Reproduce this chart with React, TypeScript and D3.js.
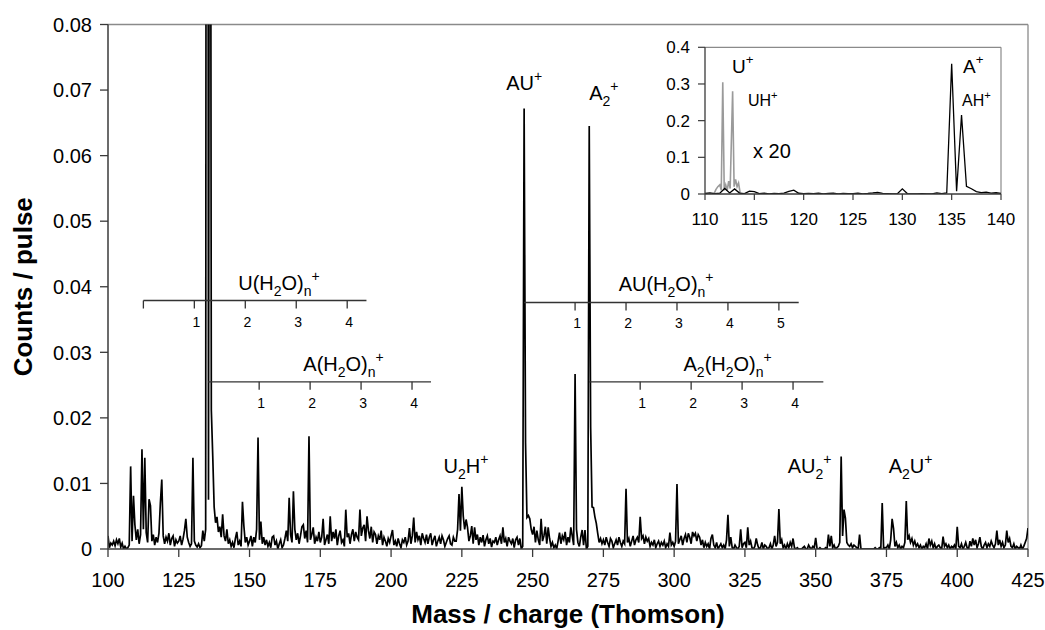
import React from "react";
import * as d3 from "d3";

const W = 1045;
const H = 630;
const FONT = "'Liberation Sans', Arial, Helvetica, sans-serif";

// ---------- data: counts/pulse x 1e-4, sampled every 0.5 Th ----------
const STEP = 0.5;
const seg100 = [20,2,9,6,12,5,14,8,16,3, 9,0,4,0,2,6,126,12,81,37, 14,30,8,22,152,30,139,25,10,76, 66,12,22,6,18,10,24,70,106,20, 8,18,12,24,6,16,20,4,14,9];
const seg125 = [12,20,6,15,28,46,18,10,4,8, 139,12,6,3,8,2,5,28,12,30, 3550,75,2150,212,142,64,40,49,26,34, 18,53,20,12,30,8,14,4,10,2, 16,26,6,12,4,72,35,10,18,6];
const seg150 = [12,20,4,18,10,30,170,14,42,8, 18,6,14,4,10,2,18,20,6,12, 0,8,14,2,6,16,28,12,78,22, 10,88,30,14,24,8,20,34,37,16, 28,10,172,14,22,33,8,18,12,26];
const seg175 = [10,18,46,6,14,22,8,50,12,26, 16,30,6,20,28,10,14,4,60,18, 24,8,22,30,12,26,18,14,60,20, 32,37,12,50,28,16,34,10,26,22, 8,20,14,28,6,18,12,4,16,10];
const seg200 = [20,29,6,12,4,16,8,2,14,10, 18,6,12,32,8,20,48,10,26,14, 20,6,24,16,10,22,8,18,24,6, 14,20,4,12,18,8,20,14,4,10, 16,20,8,6,18,12,12,30,84,28];
const seg225 = [95,50,30,45,33,12,20,35,8,33, 14,22,6,18,10,21,4,14,20,8, 16,3,12,10,18,6,14,20,8,33, 10,16,4,18,12,8,16,2,14,18, 6,16,0,4,672,162,48,51,46,30];
const seg250 = [22,34,10,28,14,6,46,12,20,34, 8,33,16,4,10,2,6,0,12,25, 8,20,14,26,6,18,10,33,20,6, 267,30,10,4,18,29,6,29,0,4, 645,186,64,63,49,39,24,10,16,8];
const seg275 = [14,6,18,10,4,16,12,2,8,14, 6,18,10,4,12,8,92,10,16,4, 12,20,6,14,18,10,49,16,20,8, 18,12,16,4,10,6,14,2,8,12, 4,10,6,12,2,8,4,25,6,10];
const seg300 = [4,12,99,8,14,20,6,16,22,10, 24,18,8,26,20,24,12,22,18,6, 14,2,10,4,8,0,16,22,6,2, 10,0,4,8,2,6,0,14,52,4, 18,2,0,6,2,0,4,30,2,8];
const seg325 = [10,2,33,6,12,2,0,4,16,6, 0,2,10,0,6,4,0,2,8,0, 6,20,4,10,61,8,14,2,6,0, 8,2,10,4,16,2,0,2,0,0, 0,2,4,0,0,6,2,0,4,2];
const seg350 = [17,0,0,2,0,0,0,2,0,22, 4,20,2,6,0,2,4,10,141,20, 60,47,10,6,4,8,2,6,4,2, 0,22,0,0,0,0,0,0,0,0, 0,0,2,0,0,2,0,70,0,2];
const seg375 = [2,6,0,14,46,31,4,10,2,6, 0,4,2,10,73,14,20,10,16,6, 12,4,8,2,6,0,4,2,8,0, 16,6,12,2,8,0,4,6,2,0, 19,4,8,2,6,0,4,2,6,0];
const seg400 = [34,4,2,8,0,4,10,2,0,12, 4,16,6,14,2,8,18,4,0,6, 10,2,8,4,12,6,2,8,28,6, 14,4,10,2,6,28,10,16,4,2, 8,0,4,2,0,6,0,4,10,16, 32];

const segmentStarts = [100, 125, 150, 175, 200, 225, 250, 275, 300, 325, 350, 375, 400];
const segmentValues = [seg100, seg125, seg150, seg175, seg200, seg225, seg250, seg275, seg300, seg325, seg350, seg375, seg400];

// inset: uracil region multiplied by 20 (grey trace)
const uMass = [110.9, 111.1, 111.3, 111.5, 111.65, 111.8, 111.95, 112.1, 112.25, 112.4, 112.55, 112.8, 112.95, 113.1, 113.25, 113.4, 113.55, 113.7];
const uX20 = [0, 0.012, 0.02, 0.025, 0.01, 0.305, 0.01, 0.025, 0.01, 0.035, 0.015, 0.28, 0.02, 0.04, 0.02, 0.03, 0.005, 0];

const xTicks = [100, 125, 150, 175, 200, 225, 250, 275, 300, 325, 350, 375, 400, 425];
const yTicks = [0, 0.01, 0.02, 0.03, 0.04, 0.05, 0.06, 0.07, 0.08];
const insetXTicks = [110, 115, 120, 125, 130, 135, 140];
const insetYTicks = [0, 0.1, 0.2, 0.3, 0.4];

type Part = [string, string?];

// water-cluster ladders (mass of n = 0, step 18 Th)
const ladders: { label: Part[]; level: number; base: number; n: number[]; end: number; labelAt: number }[] = [
  { label: [["U(H"], ["2", "sub"], ["O)"], ["n", "sub"], ["+", "sup"]], level: 0.0379, base: 112.5, n: [0, 1, 2, 3, 4], end: 191.3, labelAt: 146 },
  { label: [["A(H"], ["2", "sub"], ["O)"], ["n", "sub"], ["+", "sup"]], level: 0.0255, base: 135.4, n: [1, 2, 3, 4], end: 214.1, labelAt: 169 },
  { label: [["AU(H"], ["2", "sub"], ["O)"], ["n", "sub"], ["+", "sup"]], level: 0.0376, base: 247, n: [1, 2, 3, 4, 5], end: 344, labelAt: 280.4 },
  { label: [["A"], ["2", "sub"], ["(H"], ["2", "sub"], ["O)"], ["n", "sub"], ["+", "sup"]], level: 0.0255, base: 270, n: [1, 2, 3, 4], end: 352.7, labelAt: 303.3 },
];

const peakLabels: { label: Part[]; m: number; v: number; anchor: string }[] = [
  { label: [["AU"], ["+", "sup"]], m: 247, v: 0.07, anchor: "middle" },
  { label: [["A"], ["2", "sub"], ["+", "sup"]], m: 270, v: 0.0685, anchor: "start" },
  { label: [["U"], ["2", "sub"], ["H"], ["+", "sup"]], m: 218.5, v: 0.0116, anchor: "start" },
  { label: [["AU"], ["2", "sub"], ["+", "sup"]], m: 340.1, v: 0.0116, anchor: "start" },
  { label: [["A"], ["2", "sub"], ["U"], ["+", "sup"]], m: 375.8, v: 0.0116, anchor: "start" },
];

const spectrum = segmentStarts.flatMap((s, k) =>
  segmentValues[k].map((v, i) => ({ m: s + i * STEP, c: v * 1e-4 }))
);

function Rich({ parts, x, y, size, anchor = "start" }: { parts: Part[]; x: number; y: number; size: number; anchor?: string }) {
  const small = size * 0.7;
  let cur = 0;
  return (
    <text x={x} y={y} fontSize={size} textAnchor={anchor} fontFamily={FONT} fill="#000">
      {parts.map(([t, k], i) => {
        const target = k === "sub" ? size * 0.3 : k === "sup" ? -size * 0.45 : 0;
        const dy = target - cur;
        cur = target;
        return (
          <tspan key={i} dy={dy} fontSize={k ? small : size}>
            {t}
          </tspan>
        );
      })}
    </text>
  );
}

export default function App() {
  const left = 108, right = 1028, top = 24.5, bottom = 549;
  const x = d3.scaleLinear().domain([100, 425]).range([left, right]);
  const y = d3.scaleLinear().domain([0, 0.08]).range([bottom, top]);

  const line = d3
    .line<{ m: number; c: number }>()
    .x((d) => x(d.m))
    .y((d) => y(d.c));

  // inset
  const il = 705, ir = 1001, it = 47.3, ib = 194;
  const ix = d3.scaleLinear().domain([110, 140]).range([il, ir]);
  const iy = d3.scaleLinear().domain([0, 0.4]).range([ib, it]);
  const iline = d3
    .line<{ m: number; c: number }>()
    .x((d) => ix(d.m))
    .y((d) => iy(d.c));
  const insetBlack = spectrum.filter((d) => d.m >= 110 && d.m <= 140);
  const insetGrey = uMass.map((m, i) => ({ m, c: uX20[i] }));

  const axisColor = "#3a3a3a";
  const frameColor = "#8a8a8a";

  return (
    <svg width={W} height={H} style={{ position: "absolute", left: 0, top: 0, background: "#fff" }} fontFamily={FONT}>
      <defs>
        <clipPath id="plotClip">
          <rect x={left} y={top} width={right - left} height={bottom - top} />
        </clipPath>
        <clipPath id="insetClip">
          <rect x={il} y={it} width={ir - il} height={ib - it} />
        </clipPath>
      </defs>
      <rect x={0} y={0} width={W} height={H} fill="#fff" />

      {/* frame */}
      <line x1={left} y1={top} x2={right} y2={top} stroke={frameColor} strokeWidth={1.3} />
      <line x1={right} y1={top} x2={right} y2={bottom} stroke={frameColor} strokeWidth={1.3} />

      {/* spectrum */}
      <path d={line(spectrum) || ""} fill="none" stroke="#000" strokeWidth={1.7} strokeLinejoin="miter" clipPath="url(#plotClip)" />

      {/* axes */}
      <line x1={left} y1={top} x2={left} y2={bottom} stroke={axisColor} strokeWidth={1.5} />
      <line x1={left} y1={bottom} x2={right} y2={bottom} stroke={axisColor} strokeWidth={1.5} />
      {yTicks.map((t) => (
        <g key={"y" + t}>
          <line x1={left - 8} x2={left} y1={y(t)} y2={y(t)} stroke={axisColor} strokeWidth={1.3} />
          <text x={left - 16} y={y(t)} dy="0.36em" textAnchor="end" fontSize={20}>
            {t === 0 ? "0" : t.toFixed(2)}
          </text>
        </g>
      ))}
      {xTicks.map((t) => (
        <g key={"x" + t}>
          <line x1={x(t)} x2={x(t)} y1={bottom} y2={bottom + 8} stroke={axisColor} strokeWidth={1.3} />
          <text x={x(t)} y={587} textAnchor="middle" fontSize={20}>
            {t}
          </text>
        </g>
      ))}

      {/* axis titles */}
      <text x={(left + right) / 2} y={623} textAnchor="middle" fontSize={26} fontWeight="bold">
        Mass / charge (Thomson)
      </text>
      <text transform={`translate(32,${(top + bottom) / 2}) rotate(-90)`} textAnchor="middle" fontSize={26} fontWeight="bold">
        Counts / pulse
      </text>

      {/* water cluster ladders */}
      {ladders.map((L, k) => {
        const ly = y(L.level);
        return (
          <g key={"l" + k}>
            <line x1={x(L.base)} x2={x(L.end)} y1={ly} y2={ly} stroke="#333" strokeWidth={1.3} />
            {L.n.map((n) => (
              <g key={n}>
                <line x1={x(L.base + 18 * n)} x2={x(L.base + 18 * n)} y1={ly} y2={ly + 8} stroke="#333" strokeWidth={1.3} />
                {n > 0 && (
                  <text x={x(L.base + 18 * n) + 2} y={ly + 26} textAnchor="middle" fontSize={14}>
                    {n}
                  </text>
                )}
              </g>
            ))}
            <Rich parts={L.label} x={x(L.labelAt)} y={ly - 11} size={20} />
          </g>
        );
      })}

      {/* peak labels */}
      {peakLabels.map((p, k) => (
        <Rich key={"p" + k} parts={p.label} x={x(p.m)} y={y(p.v)} size={20} anchor={p.anchor} />
      ))}

      {/* inset */}
      <line x1={il} y1={it} x2={ir} y2={it} stroke={frameColor} strokeWidth={1.2} />
      <line x1={ir} y1={it} x2={ir} y2={ib} stroke={frameColor} strokeWidth={1.2} />
      <g clipPath="url(#insetClip)">
        <path d={iline(insetGrey) || ""} fill="none" stroke="#9a9a9a" strokeWidth={1.6} />
        <path d={iline(insetBlack) || ""} fill="none" stroke="#000" strokeWidth={1.3} />
      </g>
      <line x1={il} y1={it} x2={il} y2={ib} stroke={axisColor} strokeWidth={1.3} />
      <line x1={il} y1={ib} x2={ir} y2={ib} stroke={axisColor} strokeWidth={1.3} />
      {insetYTicks.map((t) => (
        <g key={"iy" + t}>
          <line x1={il - 7} x2={il} y1={iy(t)} y2={iy(t)} stroke={axisColor} strokeWidth={1.2} />
          <text x={690} y={iy(t)} dy="0.36em" textAnchor="end" fontSize={17}>
            {t === 0 ? "0" : t.toFixed(1)}
          </text>
        </g>
      ))}
      {insetXTicks.map((t) => (
        <g key={"ix" + t}>
          <line x1={ix(t)} x2={ix(t)} y1={ib} y2={ib + 6} stroke={axisColor} strokeWidth={1.2} />
          <text x={ix(t)} y={225} textAnchor="middle" fontSize={17}>
            {t}
          </text>
        </g>
      ))}
      <Rich parts={[["U"], ["+", "sup"]]} x={732} y={73} size={19} />
      <Rich parts={[["UH"], ["+", "sup"]]} x={748} y={106} size={16} />
      <text x={753} y={158} fontSize={20}>x 20</text>
      <Rich parts={[["A"], ["+", "sup"]]} x={963} y={73} size={19} />
      <Rich parts={[["AH"], ["+", "sup"]]} x={962} y={106} size={16} />
    </svg>
  );
}
